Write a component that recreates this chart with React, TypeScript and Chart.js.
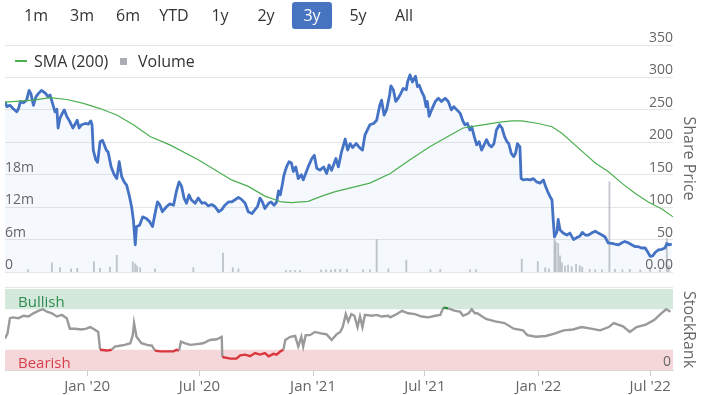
import React, { useEffect, useRef } from 'react';
import { Chart, registerables } from 'chart.js';

Chart.register(...registerables);

const FONT = "'Open Sans', 'Noto Sans', sans-serif";

// ---- range selector ----
const rangeButtons = ['1m', '3m', '6m', 'YTD', '1y', '2y', '3y', '5y', 'All'];
const selectedRange = '3y';

// ---- time axis ----
const START_DATE = '2019-08-21';
const END_DAY = 1082; // ~ 2022-08-07
const tickDates = ['2020-01-01', '2020-07-01', '2021-01-01', '2021-07-01', '2022-01-01', '2022-07-01'];
const tickLabels = ["Jan '20", "Jul '20", "Jan '21", "Jul '21", "Jan '22", "Jul '22"];

// ---- axis labels ----
const priceTicks = [0, 50, 100, 150, 200, 250, 300, 350];
const priceTickLabels = ['0.00', '50', '100', '150', '200', '250', '300', '350'];
const volumeTicks = [0, 6, 12, 18]; // millions
const volumeTickLabels = ['0', '6m', '12m', '18m'];

// ---- share price (days since START_DATE) ----
const priceDays = [
  0, 3, 8, 13, 19, 22, 25, 30, 35, 39, 42, 46, 50, 54, 59, 65, 70, 73, 77, 81,
  84, 86, 89, 93, 96, 100, 105, 110, 113, 117, 120, 124, 130, 135, 139, 141, 143, 147, 150, 154,
  158, 164, 167, 172, 177, 181, 185, 189, 193, 197, 201, 205, 208, 211, 213, 218, 223, 228, 234, 239,
  243, 247, 251, 255, 262, 267,
  273, 278, 282, 286, 290, 294, 298, 302, 308, 313, 319, 324, 329, 335, 340, 346, 351, 356, 362, 367,
  372, 378, 383, 389, 394, 400, 405, 409, 413, 417, 421, 427, 431, 436, 440, 443, 446, 449, 452, 456,
  460, 464, 467, 471, 475, 480, 483, 487, 491, 497, 501, 505, 510, 516, 521, 525, 529,
  536, 540, 545, 551, 555, 559, 563, 569, 574, 579, 583, 587, 591, 597, 602, 607, 610, 614, 618, 623,
  625, 629, 633, 637, 641, 645, 650, 652, 656, 660, 665, 668, 671, 675, 679, 682, 684, 687, 691, 697,
  702, 707, 713, 718, 723, 727, 732, 737, 742, 745, 749, 753, 756, 760, 764, 768, 772, 776, 780, 784,
  788, 792, 796, 801,
  805, 809, 813, 816, 820, 824, 827, 830, 834, 836, 840, 845, 851, 856, 861, 867, 872, 876, 879, 883,
  886, 888, 890, 894, 896, 899, 904, 910, 915, 921, 926, 931, 935, 940, 945, 950, 956, 961, 967, 972,
  977, 983, 988, 994, 999, 1004, 1010, 1015, 1021, 1026, 1031, 1037, 1041, 1045, 1049, 1053, 1058, 1064, 1069, 1072,
  1075, 1080,
];
const priceValues = [
  263, 255, 257, 252, 247, 252, 263, 261, 265, 280, 275, 257, 270, 275, 280, 276, 270, 273, 260, 247,
  251, 222, 237, 245, 250, 240, 232, 222, 227, 234, 222, 227, 229, 228, 233, 227, 188, 173, 169, 201,
  203, 188, 185, 162, 150, 144, 170, 147, 139, 134, 119, 101, 80, 42, 70, 72, 85, 83, 78, 70,
  90, 108, 103, 93, 101, 105,
  103, 126, 139, 132, 114, 106, 119, 111, 106, 114, 106, 107, 102, 104, 101, 93, 96, 103, 108, 108,
  111, 115, 112, 106, 93, 90, 96, 101, 114, 108, 98, 106, 108, 103, 108, 125, 119, 134, 150, 162,
  170, 168, 155, 162, 144, 150, 142, 152, 162, 175, 180, 160, 157, 162, 152, 165, 157,
  175, 162, 185, 205, 188, 198, 192, 198, 192, 188, 211, 219, 227, 229, 234, 257, 265, 242, 250, 273,
  287, 281, 263, 268, 275, 283, 281, 293, 304, 293, 302, 286, 288, 278, 270, 255, 263, 240, 250, 263,
  268, 263, 268, 263, 250, 255, 250, 245, 232, 227, 229, 219, 224, 209, 196, 201, 188, 196, 204, 196,
  193, 198, 219, 227,
  222, 209, 201, 198, 183, 178, 183, 198, 193, 144, 142, 143, 142, 144, 139, 137, 142, 131, 124, 116,
  111, 80, 54, 62, 81, 65, 60, 57, 60, 50, 53, 55, 61, 57, 57, 60, 63, 60, 57, 54,
  45, 44, 43, 42, 45, 47, 45, 42, 39, 39, 37, 37, 31, 24, 25, 30, 34, 35, 37, 44,
  42, 43,
];

// ---- SMA (200) ----
const smaDays = [
  0, 46, 73, 100, 127, 154, 181, 208, 235, 267, 313, 367, 394, 421, 448, 464, 491, 513, 535, 591,
  624, 656, 688, 721, 742, 769, 802, 821, 837, 864, 886, 902, 929, 956, 977, 999, 1021, 1042, 1064, 1082,
];
const smaValues = [
  262, 265, 269, 266, 260, 252, 242, 227, 209, 196, 173, 142, 132, 117, 108, 107, 109, 117, 124, 137,
  152, 173, 193, 211, 222, 226, 231, 233, 233, 229, 224, 214, 191, 168, 155, 137, 121, 108, 97, 85,
];

// ---- volume (millions) ----
const volumeDays = [
  37, 76, 89, 107, 117, 144, 154, 170, 181, 207, 211, 214, 219, 243, 305, 353, 369, 378, 455, 462,
  470, 478, 512, 520, 528, 535, 543, 554, 580, 591, 602, 621, 650, 689, 705, 753, 763, 837, 863, 875,
  881, 890, 892, 896, 899, 902, 907, 912, 918, 925, 931, 935, 947, 956, 967, 979, 988, 1000, 1012, 1029,
  1045, 1061, 1072, 1075,
];
const volumeValues = [
  0.4, 1.7, 0.8, 0.6, 0.7, 1.9, 0.7, 0.9, 3.1, 1.9, 1.5, 1.1, 0.8, 0.6, 0.8, 3.5, 0.8, 0.6, 0.3, 0.3,
  0.3, 0.3, 0.4, 0.4, 0.4, 0.5, 0.5, 0.5, 0.4, 0.4, 6.0, 0.6, 2.2, 0.4, 0.5, 0.4, 0.4, 2.4, 1.9, 0.8,
  0.6, 6.0, 5.6, 5.3, 3.0, 1.7, 1.1, 1.3, 1.0, 1.4, 1.2, 0.9, 0.5, 0.4, 0.4, 16.7, 0.5, 0.4, 0.5, 0.4,
  0.5, 0.4, 6.2, 1.2,
];

// ---- StockRank ----
const rankDays = [
  0, 4, 8, 13, 22, 30, 38, 46, 54, 61, 68, 76, 84, 92, 100, 105, 113, 124, 132, 138,
  143, 151, 154, 165, 173, 178, 186, 194, 203, 207, 209, 213, 221, 230, 238, 243, 251, 262, 273, 278,
  282, 285, 292, 300, 311, 321, 332, 343, 351, 352, 365, 375, 381, 389, 397, 405, 413, 421, 427, 435,
  440, 446, 451, 454, 462, 470, 475, 480, 483, 487, 494, 502, 513, 521, 529, 537, 543, 547, 552, 556,
  561, 566, 571, 575, 579, 583, 594, 602, 610, 621, 624, 632, 643, 653, 664, 675, 686, 697, 705, 710,
  718, 729, 737, 742, 751, 756, 761, 765, 779, 794, 809, 824, 839, 846, 860, 876, 890, 905, 920, 934,
  949, 964, 978, 986, 1001, 1012, 1023, 1038, 1052, 1063, 1071, 1078,
];
const rankValues = [
  39, 45, 64, 65, 64, 67, 66, 70, 73, 75, 72, 70, 66, 68, 64, 51, 51, 50, 51, 53,
  51, 47, 25, 24, 25, 29, 30, 31, 33, 43, 58, 41, 33, 31, 30, 24, 23, 23, 23, 25,
  24, 35, 33, 31, 32, 33, 37, 38, 41, 16, 14, 14, 18, 19, 17, 21, 19, 21, 17, 20,
  19, 23, 25, 37, 41, 42, 29, 41, 29, 43, 43, 47, 45, 44, 37, 44, 47, 53, 69, 60,
  69, 67, 53, 66, 53, 68, 67, 68, 66, 67, 65, 68, 73, 70, 69, 66, 65, 67, 68, 77,
  76, 73, 72, 67, 70, 75, 70, 70, 63, 60, 58, 51, 49, 43, 41, 42, 45, 49, 50, 53,
  51, 49, 53, 58, 54, 47, 53, 56, 62, 70, 75, 72,
];
const BEARISH_MAX = 25;
const BULLISH_MIN = 75;

// ---- colours ----
const PRICE_COLOR = '#4472c4';
const SMA_COLOR = '#4caf50';
const VOLUME_COLOR = 'rgba(160,163,172,0.6)';
const RANK_COLOR = '#9a9a9a';
const RANK_BEAR_COLOR = '#d9363e';
const RANK_BULL_COLOR = '#2e8b3e';

const dayOf = (d: string) => Math.round((Date.parse(d) - Date.parse(START_DATE)) / 86400000);
const tickDays = tickDates.map(dayOf);

export default function App() {
  const topRef = useRef<HTMLCanvasElement>(null);
  const botRef = useRef<HTMLCanvasElement>(null);

  useEffect(() => {
    Chart.defaults.font.family = FONT;

    const labelPlugin = {
      id: 'axisLabels',
      afterDraw(chart: any) {
        const { ctx, chartArea, scales } = chart;
        ctx.save();
        ctx.font = `14px ${FONT}`;
        ctx.fillStyle = '#666';
        ctx.textBaseline = 'alphabetic';
        ctx.textAlign = 'right';
        priceTicks.forEach((v, i) => {
          ctx.fillText(priceTickLabels[i], chartArea.right, scales.price.getPixelForValue(v) - 3);
        });
        ctx.textAlign = 'left';
        volumeTicks.forEach((v, i) => {
          ctx.fillText(volumeTickLabels[i], chartArea.left, scales.vol.getPixelForValue(v) - 3);
        });
        ctx.restore();
      },
    };

    const top = new Chart(topRef.current!, {
      type: 'line',
      data: {
        datasets: [
          {
            type: 'line',
            label: 'SMA (200)',
            data: smaDays.map((d, i) => ({ x: d, y: smaValues[i] })),
            borderColor: SMA_COLOR,
            borderWidth: 1.2,
            pointRadius: 0,
            fill: false,
            yAxisID: 'price',
            order: 0,
          },
          {
            type: 'line',
            label: 'Price',
            data: priceDays.map((d, i) => ({ x: d, y: priceValues[i] })),
            borderColor: PRICE_COLOR,
            borderWidth: 2.8,
            borderJoinStyle: 'round',
            pointRadius: 0,
            fill: 'origin',
            backgroundColor: 'rgba(68,114,196,0.05)',
            yAxisID: 'price',
            order: 1,
          },
          {
            type: 'bar',
            label: 'Volume',
            data: volumeDays.map((d, i) => ({ x: d, y: volumeValues[i] })),
            backgroundColor: VOLUME_COLOR,
            barThickness: 1.2,
            yAxisID: 'vol',
            order: 2,
          },
        ],
      } as any,
      options: {
        responsive: false,
        animation: false,
        devicePixelRatio: 1,
        layout: { padding: { top: 45, left: 5, right: 0, bottom: 8 } },
        plugins: { legend: { display: false }, tooltip: { enabled: false } },
        scales: {
          x: { type: 'linear', min: 0, max: END_DAY, display: false, offset: false },
          price: {
            type: 'linear',
            position: 'right',
            min: 0,
            max: 350,
            ticks: { display: false, stepSize: 50 },
            grid: { color: '#e6e6e6', drawTicks: false },
            border: { display: false },
            title: {
              display: true,
              text: 'Share Price',
              color: '#666',
              font: { size: 16 },
              padding: { top: 11, bottom: 0 },
            },
            afterFit: (s: any) => {
              s.width = 36;
            },
          },
          vol: { type: 'linear', position: 'left', display: false, min: 0, max: 42 },
        },
      } as any,
      plugins: [labelPlugin],
    });

    const bandPlugin = {
      id: 'bands',
      beforeDatasetsDraw(chart: any) {
        const { ctx, chartArea, scales } = chart;
        const y = scales.rank;
        const w = chartArea.right - chartArea.left;
        ctx.save();
        ctx.strokeStyle = '#e6e6e6';
        ctx.lineWidth = 1;
        ctx.beginPath();
        ctx.moveTo(chartArea.left, 7.5);
        ctx.lineTo(chartArea.right, 7.5);
        ctx.stroke();
        ctx.fillStyle = '#d4e9dc';
        ctx.fillRect(chartArea.left, y.getPixelForValue(100), w, y.getPixelForValue(BULLISH_MIN) - y.getPixelForValue(100));
        ctx.fillStyle = '#f6d7d9';
        ctx.fillRect(chartArea.left, y.getPixelForValue(BEARISH_MAX), w, y.getPixelForValue(0) - y.getPixelForValue(BEARISH_MAX));
        ctx.font = `15px ${FONT}`;
        ctx.textAlign = 'left';
        ctx.textBaseline = 'alphabetic';
        ctx.fillStyle = '#2e8b4f';
        ctx.fillText('Bullish', chartArea.left + 13, y.getPixelForValue(BULLISH_MIN) - 2);
        ctx.fillStyle = '#d4404c';
        ctx.fillText('Bearish', chartArea.left + 13, y.getPixelForValue(0) - 2);
        ctx.font = `14px ${FONT}`;
        ctx.fillStyle = '#666';
        ctx.textAlign = 'right';
        ctx.fillText('0', chartArea.right - 2, y.getPixelForValue(0) - 4);
        ctx.restore();
      },
    };

    const bot = new Chart(botRef.current!, {
      type: 'line',
      data: {
        datasets: [
          {
            label: 'StockRank',
            data: rankDays.map((d, i) => ({ x: d, y: rankValues[i] })),
            borderColor: RANK_COLOR,
            borderWidth: 2.4,
            pointRadius: 0,
            fill: false,
            yAxisID: 'rank',
            segment: {
              borderColor: (c: any) => {
                const a = c.p0.parsed.y;
                const b = c.p1.parsed.y;
                if (a <= BEARISH_MAX && b <= BEARISH_MAX) return RANK_BEAR_COLOR;
                if (a >= BULLISH_MIN + 1 && b >= BULLISH_MIN + 1) return RANK_BULL_COLOR;
                return RANK_COLOR;
              },
            },
          },
        ],
      } as any,
      options: {
        responsive: false,
        animation: false,
        devicePixelRatio: 1,
        layout: { padding: { top: 9, left: 5, right: 0, bottom: 0 } },
        plugins: { legend: { display: false }, tooltip: { enabled: false } },
        scales: {
          x: {
            type: 'linear',
            min: 0,
            max: END_DAY,
            offset: false,
            afterBuildTicks: (s: any) => {
              s.ticks = tickDays.map((v) => ({ value: v }));
            },
            ticks: {
              callback: (_v: any, i: number) => tickLabels[i],
              color: '#666',
              font: { size: 15 },
              padding: 2,
              maxRotation: 0,
              autoSkip: false,
            },
            grid: { drawOnChartArea: false, color: '#cccccc', tickLength: 6 },
            border: { color: '#d6d6d6' },
            afterFit: (s: any) => {
              s.height = 25;
            },
          },
          rank: {
            type: 'linear',
            position: 'right',
            min: 0,
            max: 100,
            ticks: { display: false },
            grid: { display: false },
            border: { display: false },
            title: {
              display: true,
              text: 'StockRank',
              color: '#666',
              font: { size: 16 },
              padding: { top: 11, bottom: 0 },
            },
            afterFit: (s: any) => {
              s.width = 36;
            },
          },
        },
      } as any,
      plugins: [bandPlugin],
    });

    return () => {
      top.destroy();
      bot.destroy();
    };
  }, []);

  return (
    <div
      style={{
        position: 'fixed',
        left: 0,
        top: 0,
        width: 709,
        height: 395,
        background: '#fff',
        overflow: 'hidden',
        fontFamily: FONT,
      }}
    >
      <canvas
        ref={topRef}
        width={709}
        height={280}
        style={{ position: 'absolute', left: 0, top: 0, width: 709, height: 280 }}
      />
      <canvas
        ref={botRef}
        width={709}
        height={115}
        style={{ position: 'absolute', left: 0, top: 280, width: 709, height: 115 }}
      />
      {rangeButtons.map((b, i) => {
        const sel = b === selectedRange;
        return (
          <div
            key={b}
            style={{
              position: 'absolute',
              left: 16 + i * 46,
              top: 2,
              width: 40,
              height: 27,
              lineHeight: '27px',
              textAlign: 'center',
              fontSize: 16,
              color: sel ? '#fff' : '#333',
              background: sel ? '#4774c0' : 'transparent',
              borderRadius: 3,
            }}
          >
            {b}
          </div>
        );
      })}
      <div style={{ position: 'absolute', left: 15, top: 60, width: 12, height: 2, background: SMA_COLOR }} />
      <div
        style={{ position: 'absolute', left: 34, top: 50, fontSize: 16, lineHeight: '22px', color: '#333', whiteSpace: 'nowrap' }}
      >
        SMA (200)
      </div>
      <div style={{ position: 'absolute', left: 120, top: 58, width: 7, height: 7, background: '#aaadb3' }} />
      <div
        style={{ position: 'absolute', left: 138, top: 50, fontSize: 16, lineHeight: '22px', color: '#333', whiteSpace: 'nowrap' }}
      >
        Volume
      </div>
    </div>
  );
}
